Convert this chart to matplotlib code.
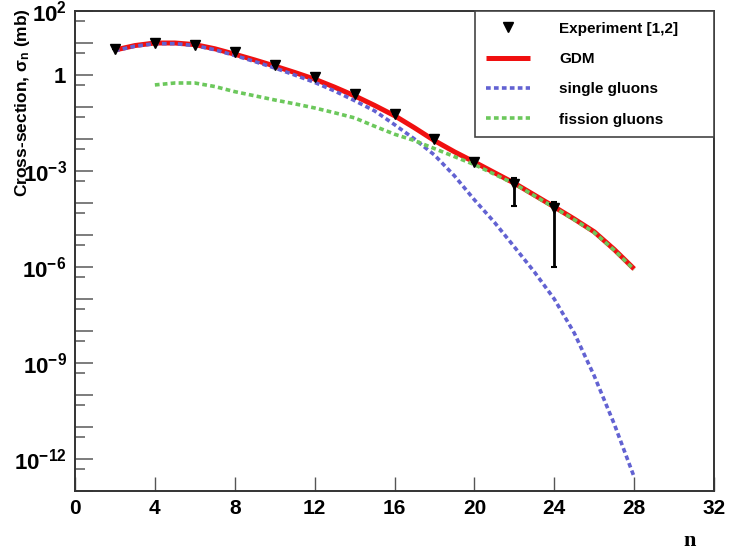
import matplotlib
matplotlib.use('Agg')
import matplotlib.pyplot as plt
import matplotlib.ticker as mticker
import numpy as np

plt.rcParams['font.family'] = ['Liberation Sans', 'DejaVu Sans']
plt.rcParams['mathtext.fontset'] = 'custom'
plt.rcParams['mathtext.rm'] = 'Liberation Sans:bold'
plt.rcParams['mathtext.it'] = 'Liberation Sans:bold'
plt.rcParams['mathtext.bf'] = 'Liberation Sans:bold'

# experiment points
exp_n = [2, 4, 6, 8, 10, 12, 14, 16, 18, 20, 22, 24]
exp_val = [6.5, 10.0, 8.7, 5.2, 2.1, 0.87, 0.25, 0.06, 0.01, 1.9e-3, 4.0e-4, 6.9e-5]
exp_hi = [6.5, 10.0, 8.7, 5.2, 2.1, 0.87, 0.25, 0.06, 0.01, 1.9e-3, 6.0e-4, 1.07e-4]
exp_lo = [6.5, 10.0, 8.7, 5.2, 2.1, 0.87, 0.25, 0.06, 0.01, 1.9e-3, 8.1e-5, 1.0e-6]

# model curves (log10 of cross-section)
gdm_n = list(range(2, 29))
gdm_log = [0.78, 0.92, 1.0, 1.0, 0.95, 0.82, 0.65, 0.47, 0.28, 0.08, -0.13, -0.38,
           -0.65, -0.95, -1.27, -1.65, -2.05, -2.4, -2.72, -3.05, -3.38, -3.75,
           -4.12, -4.5, -4.9, -5.45, -6.06]
single_n = list(range(2, 29))
single_log = [0.76, 0.9, 0.98, 0.98, 0.92, 0.79, 0.61, 0.42, 0.22, 0.0, -0.23, -0.5,
              -0.8, -1.12, -1.55, -2.0, -2.5, -3.15, -3.9, -4.6, -5.37, -6.15,
              -7.0, -8.06, -9.4, -10.9, -12.56]
fission_n = list(range(4, 29))
fission_log = [-0.31, -0.25, -0.25, -0.36, -0.52, -0.65, -0.78, -0.9, -1.03, -1.18,
               -1.34, -1.6, -1.85, -2.05, -2.3, -2.55, -2.8, -3.1, -3.4, -3.77,
               -4.14, -4.52, -4.92, -5.47, -6.08]

y_labelled = {2: r'$10^{2}$', 0: r'$1$', -3: r'$10^{-3}$', -6: r'$10^{-6}$',
              -9: r'$10^{-9}$', -12: r'$10^{-12}$'}

fig = plt.figure(figsize=(7.3, 5.54), dpi=100)
ax = fig.add_axes([75 / 730, 63 / 554, 639 / 730, 480 / 554])

l_gdm, = ax.plot(gdm_n, 10.0 ** np.array(gdm_log), color='#f01010', lw=3.6,
                 solid_capstyle='butt', zorder=2)
l_single, = ax.plot(single_n, 10.0 ** np.array(single_log), color='#6262d2', lw=2.6,
                    dashes=(1.3, 0.9), zorder=3)
l_fission, = ax.plot(fission_n, 10.0 ** np.array(fission_log), color='#6cc85c', lw=2.6,
                     dashes=(1.3, 0.9), zorder=4)

val = np.array(exp_val)
yerr = [val - np.array(exp_lo), np.array(exp_hi) - val]
ax.errorbar(exp_n, exp_val, yerr=yerr, fmt='none', ecolor='black', lw=2,
            capsize=2, capthick=1.5, zorder=5)
l_exp, = ax.plot(exp_n, exp_val, 'v', color='black', ms=7, ls='none', zorder=6)

ax.set_yscale('log')
ax.set_xlim(0, 32)
ax.set_ylim(1e-13, 1e2)

ax.xaxis.set_major_locator(mticker.MultipleLocator(4))
ax.tick_params(axis='x', which='major', direction='in', length=10, width=1,
               color='#555555', labelsize=15, pad=6, top=False)
for t in ax.get_xticklabels():
    t.set_fontweight('bold')

dec = np.arange(-13, 3)
ax.yaxis.set_major_locator(mticker.FixedLocator(10.0 ** dec))
ax.yaxis.set_minor_locator(mticker.FixedLocator(0.5 * 10.0 ** dec[1:]))


def ylab(v, pos):
    e = int(round(np.log10(v)))
    return y_labelled.get(e, '')


ax.yaxis.set_major_formatter(mticker.FuncFormatter(ylab))
ax.yaxis.set_minor_formatter(mticker.NullFormatter())
ax.tick_params(axis='y', which='major', direction='in', length=13, width=1.2,
               color='#666666', labelsize=16, pad=6, right=False)
ax.tick_params(axis='y', which='minor', direction='in', length=7, width=1.2,
               color='#666666', right=False)

for s in ax.spines.values():
    s.set_color('#333333')
    s.set_linewidth(1.4)

leg = ax.legend(handles=[l_exp, l_gdm, l_single, l_fission],
                labels=['Experiment [1,2]', 'GDM', 'single gluons', 'fission gluons'],
                loc='upper left', bbox_to_anchor=(400 / 639, 1 - 118 / 480, 239 / 639, 118 / 480),
                mode='expand', borderaxespad=0, fancybox=False, framealpha=1,
                edgecolor='#444444', handlelength=2.9, handletextpad=1.9,
                borderpad=0.7, labelspacing=1.07,
                prop={'weight': 'bold', 'size': 11})
leg.get_frame().set_linewidth(1.2)

fig.text(23 / 730, 1 - 103 / 554, r'Cross-section, $\sigma_{n}$ (mb)', rotation=90,
         ha='center', va='center', fontsize=12.5, fontweight='bold')
fig.text(690 / 730, 1 - 541 / 554, 'n', ha='center', va='center',
         fontsize=16, fontweight='bold', family='Liberation Serif')

fig.savefig('out.png', dpi=100)
